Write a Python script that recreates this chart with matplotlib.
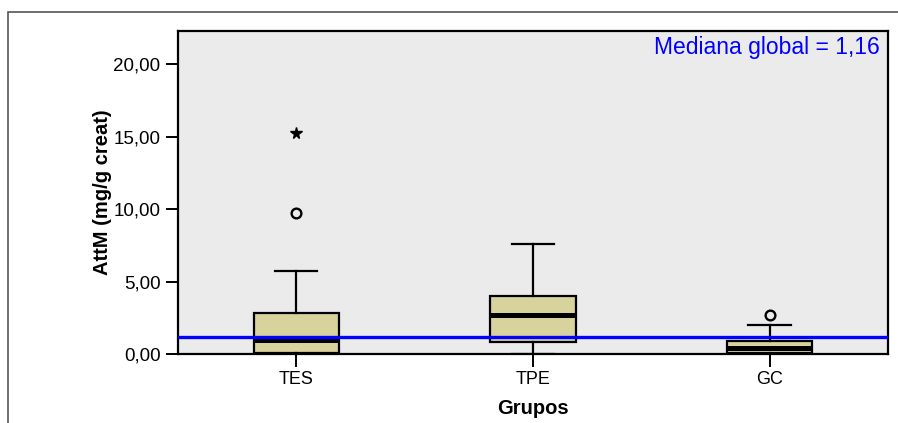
import matplotlib.pyplot as plt
from matplotlib.patches import Rectangle
from matplotlib.ticker import FuncFormatter

plt.rcParams['font.family'] = ['Liberation Sans', 'DejaVu Sans']

# values
groups = ['TES', 'TPE', 'GC']
whislo = [0.0, 0.0, 0.0]
q1 = [0.08, 0.85, 0.05]
med = [0.95, 2.69, 0.43]
q3 = [2.80, 4.00, 0.93]
whishi = [5.75, 7.56, 1.98]
outliers = [[9.70], [], [2.69]]   # circles
extremes = [[15.27], [], []]      # stars
global_median = 1.16

stats = []
for i in range(len(groups)):
    stats.append({'label': groups[i], 'whislo': whislo[i], 'q1': q1[i], 'med': med[i],
                  'q3': q3[i], 'whishi': whishi[i], 'fliers': outliers[i]})

fig = plt.figure(figsize=(8.98, 4.23), dpi=100)
ax = fig.add_axes([0.198, 0.163, 0.791, 0.764])
ax.set_facecolor('#ebebeb')

# outer frame of the original picture
fig.patches.append(Rectangle((8/898, -0.05), 1.2, 1 - 12/423 + 0.05, transform=fig.transFigure,
                             fill=False, edgecolor='#555555', linewidth=1.2))

pos = list(range(1, len(groups) + 1))
ax.bxp(stats, positions=pos, widths=0.36, capwidths=0.18, patch_artist=True,
       boxprops=dict(facecolor='#d8d29c', edgecolor='black', linewidth=1.6),
       medianprops=dict(color='black', linewidth=3.6),
       whiskerprops=dict(color='black', linewidth=1.6),
       capprops=dict(color='black', linewidth=1.6),
       flierprops=dict(marker='o', markerfacecolor='none', markeredgecolor='black',
                       markersize=7, markeredgewidth=1.7))

for i in range(len(groups)):
    for v in extremes[i]:
        ax.plot(pos[i], v, marker='*', color='black', markersize=8.5, linestyle='none')

ax.axhline(global_median, color='#0000ff', linewidth=2.4, zorder=5)
ax.text(0.988, 0.985, 'Mediana global = 1,16', transform=ax.transAxes, ha='right', va='top',
        color='#0000ff', fontsize=16.5)

ax.set_xlim(0.5, 3.5)
ax.set_ylim(0, 22.3)
ax.set_yticks([0, 5, 10, 15, 20])
ax.yaxis.set_major_formatter(FuncFormatter(lambda v, p: ('%.2f' % v).replace('.', ',')))
ax.set_xticks(pos)
ax.set_xticklabels(groups)
ax.tick_params(axis='both', direction='out', length=9, width=1.4, labelsize=13.5, colors='black')
ax.tick_params(axis='x', pad=3, labelsize=13)
for s in ax.spines.values():
    s.set_linewidth(1.6)

ax.set_ylabel('AttM (mg/g creat)', fontsize=14.5, fontweight='bold', labelpad=1)
ax.set_xlabel('Grupos', fontsize=14.5, fontweight='bold', labelpad=8)

fig.savefig('out.png', dpi=100)
